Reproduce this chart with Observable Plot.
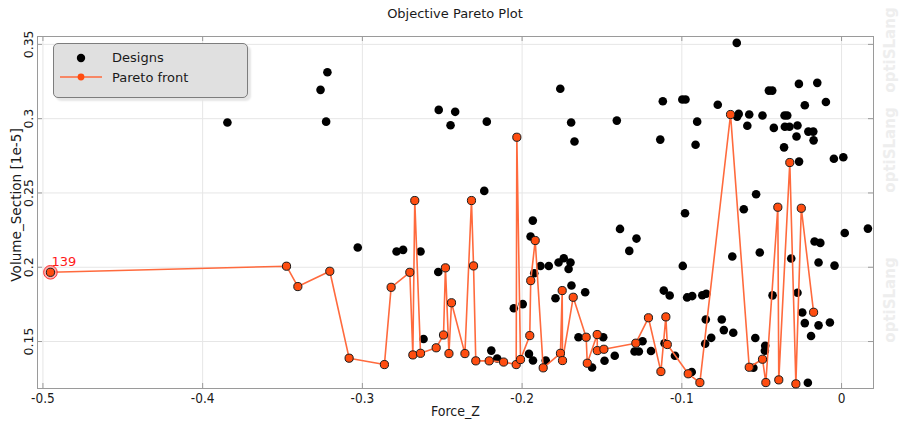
<!DOCTYPE html>
<html>
<head>
<meta charset="utf-8">
<script src="https://cdn.jsdelivr.net/npm/d3@7"></script>
<script src="https://cdn.jsdelivr.net/npm/@observablehq/plot@0.6"></script>
<style>
  body { margin: 0; background: #fff; }
  #wrap { position: relative; width: 899px; height: 423px; overflow: hidden; font-family: "DejaVu Sans", sans-serif; }
  #title { position: absolute; left: 37px; width: 836px; top: 0; height: 28px; line-height: 28px; text-align: center; font-size: 13px; color: #1a1a1a; }
  #chart { position: absolute; left: 0; top: 28px; }
  #legend { position: absolute; left: 53px; top: 43px; width: 193px; height: 53px; background: #e0e0e0; border: 1px solid #7d7d7d; border-radius: 5px; box-shadow: 3px 3px 2px #e6e6e6; }
  #legend svg { position: absolute; left: 0; top: 0; }
  .lg { position: absolute; left: 58px; font-size: 13px; color: #1a1a1a; line-height: 16px; }
  .wm { position: absolute; left: 890px; transform: translate(-50%, -50%) rotate(-90deg); font-weight: bold; font-size: 15px; color: #eeeeee; white-space: nowrap; }
</style>
</head>
<body>
<div id="wrap">
  <div id="title">Objective Pareto Plot</div>
  <div id="chart"></div>
  <div id="legend">
    <svg width="60" height="53">
      <circle cx="27" cy="14" r="4.2" fill="#000"></circle>
      <line x1="6" x2="48" y1="33" y2="33" stroke="#ff6a3d" stroke-width="1.6"></line>
      <circle cx="27" cy="33" r="3.4" fill="#ff4d10"></circle>
    </svg>
    <div class="lg" style="top:6px">Designs</div>
    <div class="lg" style="top:26px">Pareto front</div>
  </div>
  <div class="wm" style="top:50px">optiSLang</div>
  <div class="wm" style="top:150px">optiSLang</div>
  <div class="wm" style="top:300px">optiSLang</div>
</div>
<script>
// All evaluated designs (objective values)
const designX = [-0.3845,-0.3219,-0.3262,-0.3227,-0.2522,-0.2419,-0.2448,-0.2221,-0.2237,-0.3029,
  -0.2786,-0.2745,-0.2636,-0.2525,-0.2617,-0.2193,-0.2156,-0.2052,-0.1996,-0.1933,
  -0.1947,-0.1924,-0.1885,-0.1833,-0.1772,-0.1791,-0.1957,-0.1932,-0.1852,-0.1739,
  -0.1697,-0.1709,-0.1691,-0.1605,-0.1647,-0.1562,-0.1492,-0.1484,-0.1420,-0.1387,
  -0.1329,-0.1284,-0.1296,-0.1269,-0.1246,-0.1193,-0.1113,-0.1076,-0.1108,-0.1043,
  -0.0980,-0.0994,-0.0967,-0.0935,-0.0938,-0.0872,-0.0847,-0.0850,-0.0854,-0.0816,
  -0.0750,-0.0737,-0.0678,-0.0612,-0.0684,-0.0512,-0.0315,-0.0276,-0.0432,-0.0169,
  -0.0133,-0.0144,-0.0044,0.0020,0.0165,-0.0246,-0.0230,-0.0144,-0.0073,-0.0191,
  -0.0540,-0.0478,-0.0480,-0.0552,-0.0211,-0.0535,-0.0266,-0.0048,0.0011,-0.0360,
  -0.0175,-0.0208,-0.0177,-0.0282,-0.0276,-0.0355,-0.0326,-0.0357,-0.0340,-0.0424,
  -0.0495,-0.0578,-0.0590,-0.0654,-0.0644,-0.0775,-0.0904,-0.0914,-0.0656,-0.0455,
  -0.0434,-0.0267,-0.0152,-0.0230,-0.0098,-0.1761,-0.1693,-0.1672,-0.1407,-0.1119,
  -0.0997,-0.0977,-0.1135];
const designY = [0.2974,0.3312,0.3194,0.2980,0.3059,0.3046,0.2956,0.2980,0.2514,0.2133,
  0.2106,0.2117,0.2106,0.1968,0.1517,0.1439,0.1386,0.1724,0.1752,0.2314,
  0.2207,0.1960,0.2008,0.2008,0.2032,0.1791,0.1417,0.1372,0.1372,0.2061,
  0.2032,0.1988,0.1877,0.1832,0.1529,0.1325,0.1529,0.1371,0.1404,0.2258,
  0.2110,0.2193,0.1433,0.1433,0.1502,0.1436,0.1843,0.1810,0.1489,0.1404,
  0.2363,0.2009,0.1797,0.1806,0.1295,0.1812,0.1822,0.1648,0.1485,0.1525,
  0.1648,0.1577,0.1559,0.2390,0.2072,0.2099,0.2059,0.1828,0.1811,0.2173,
  0.2164,0.2032,0.2011,0.2231,0.2260,0.1695,0.1624,0.1609,0.1628,0.1537,
  0.1524,0.1471,0.1438,0.1324,0.1223,0.2491,0.2711,0.2730,0.2740,0.2807,
  0.2854,0.2913,0.2913,0.2880,0.2954,0.2946,0.2946,0.3021,0.3021,0.2938,
  0.3021,0.3028,0.2952,0.3014,0.3032,0.3094,0.2980,0.2824,0.3510,0.3189,
  0.3189,0.3234,0.3241,0.3090,0.3112,0.3201,0.2974,0.2846,0.2987,0.3117,
  0.3129,0.3129,0.2859];

// Pareto front, ordered along Force_Z
const paretoX = [-0.4953,-0.3475,-0.3404,-0.3204,-0.3083,-0.2862,-0.2820,-0.2703,-0.2684,-0.2672,
  -0.2636,-0.2538,-0.2492,-0.2480,-0.2458,-0.2442,-0.2358,-0.2317,-0.2304,-0.2290,
  -0.2206,-0.2116,-0.2037,-0.2033,-0.2010,-0.1952,-0.1946,-0.1918,-0.1868,-0.1760,
  -0.1749,-0.1747,-0.1680,-0.1599,-0.1592,-0.1530,-0.1529,-0.1488,-0.1288,-0.1209,
  -0.1131,-0.1100,-0.1091,-0.0960,-0.0887,-0.0695,-0.0578,-0.0495,-0.0474,-0.0399,
  -0.0393,-0.0324,-0.0286,-0.0252,-0.0175];
const paretoY = [0.1966,0.2007,0.1870,0.1973,0.1388,0.1345,0.1865,0.1966,0.1410,0.2449,
  0.1421,0.1458,0.1544,0.1996,0.1419,0.1761,0.1419,0.2449,0.2009,0.1370,
  0.1370,0.1362,0.1345,0.2875,0.1379,0.1540,0.1910,0.2180,0.1323,0.1421,
  0.1843,0.1372,0.1798,0.1529,0.1354,0.1547,0.1439,0.1448,0.1489,0.1660,
  0.1298,0.1666,0.1480,0.1283,0.1224,0.3028,0.1327,0.1381,0.1224,0.2404,
  0.1242,0.2705,0.1215,0.2397,0.1697];

// Selected design shown with its id
const selectedIndex = 0;
const selectedLabel = "139";

const xTicks = [-0.5, -0.4, -0.3, -0.2, -0.1, 0];
const yTicks = [0.15, 0.2, 0.25, 0.3, 0.35];

const designs = designX.map((x, i) => ({x, y: designY[i]}));
const pareto = paretoX.map((x, i) => ({x, y: paretoY[i]}));
const selected = [pareto[selectedIndex]];

const fmtX = d => d === 0 ? "0" : (d < 0 ? "-" : "") + Math.abs(d).toFixed(1);
const fmtY = d => String(d);

const W = 899, H = 395;
const mt = 8, mb = 35, ml = 37, mr = 26;
const frameW = W - ml - mr, frameH = H - mt - mb;
const gridColor = "#e6e6e6", axisColor = "#9a9a9a";

const chart = Plot.plot({
  width: W, height: H,
  marginTop: mt, marginBottom: mb, marginLeft: ml, marginRight: mr,
  x: {domain: [-0.5034, 0.0200], axis: null},
  y: {domain: [0.1184, 0.3553], axis: null},
  style: {fontFamily: "DejaVu Sans", background: "white", color: "#1a1a1a"},
  marks: [
    Plot.gridX(xTicks, {stroke: gridColor, strokeOpacity: 1}),
    Plot.gridY(yTicks, {stroke: gridColor, strokeOpacity: 1}),
    // short inward tick marks on all four sides
    Plot.tickX(xTicks, {x: d => d, stroke: axisColor, insetTop: frameH - 5}),
    Plot.tickX(xTicks, {x: d => d, stroke: axisColor, insetBottom: frameH - 5}),
    Plot.tickY(yTicks, {y: d => d, stroke: axisColor, insetRight: frameW - 5}),
    Plot.tickY(yTicks, {y: d => d, stroke: axisColor, insetLeft: frameW - 5}),
    Plot.frame({stroke: axisColor}),
    // tick labels
    Plot.text(xTicks, {x: d => d, frameAnchor: "bottom", dy: 10, text: fmtX, lineAnchor: "middle",
      fontSize: 13.5, fontFamily: "DejaVu Sans Condensed", fill: "#1a1a1a"}),
    Plot.text(yTicks, {y: d => d, frameAnchor: "left", dx: -9, rotate: -90, text: fmtY,
      textAnchor: "middle", lineAnchor: "middle", fontSize: 12.5, fill: "#1a1a1a"}),
    // axis titles
    Plot.text(["Force_Z"], {frameAnchor: "bottom", dy: 23, text: d => d, lineAnchor: "middle",
      fontSize: 14, fontFamily: "DejaVu Sans Condensed", fill: "#1a1a1a"}),
    Plot.text(["Volume_Section [1e-5]"], {frameAnchor: "left", dx: -21, dy: -7.5, rotate: -90, text: d => d,
      textAnchor: "middle", lineAnchor: "middle", fontSize: 13.6, fill: "#1a1a1a"}),
    // data
    Plot.dot(designs, {x: "x", y: "y", r: 4.3, fill: "#000", stroke: "none"}),
    Plot.line(pareto, {x: "x", y: "y", stroke: "#ff6a3d", strokeWidth: 1.6}),
    Plot.dot(selected, {x: "x", y: "y", r: 6.8, fill: "#ff8a8a", fillOpacity: 0.7, stroke: "#ff3030", strokeWidth: 1}),
    Plot.dot(pareto, {x: "x", y: "y", r: 4.1, fill: "#ff4d10", stroke: "#1a1a1a", strokeWidth: 1}),
    Plot.text(selected, {x: "x", y: "y", text: () => selectedLabel, textAnchor: "start", lineAnchor: "bottom",
      dx: 1, dy: -6, fontSize: 13, fill: "#ff1a1a"})
  ]
});
document.getElementById("chart").appendChild(chart);
</script>
</body>
</html>
